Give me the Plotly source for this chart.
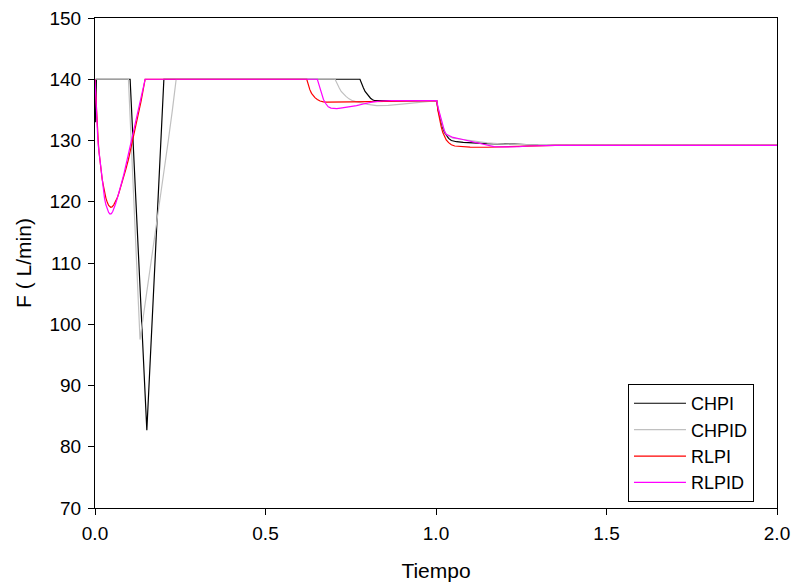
import plotly.graph_objects as go

# ---- data ----
t_chpi = [0, 0.002, 0.004, 0.103, 0.152, 0.202, 0.777, 0.782, 0.787, 0.792, 0.797, 0.803,
          0.808, 0.814, 0.821, 0.85, 1.0, 1.002, 1.006, 1.01, 1.015, 1.02, 1.025, 1.03,
          1.037, 1.045, 1.06, 1.08, 1.15, 1.23, 1.3, 2.0]
f_chpi = [140, 133, 140, 140, 82.7, 140, 140, 139.2, 138.6, 138.0, 137.6, 137.2, 136.9,
          136.65, 136.5, 136.5, 136.5, 136.5, 135.0, 134.0, 132.9, 132.0, 131.3, 130.8,
          130.35, 130.0, 129.8, 129.7, 129.5, 129.4, 129.25, 129.2]

t_chpid = [0, 0.098, 0.132, 0.145, 0.16, 0.175, 0.19, 0.203, 0.215, 0.227, 0.238, 0.704,
           0.709, 0.716, 0.722, 0.728, 0.736, 0.745, 0.755, 0.767, 0.783, 0.8, 0.826, 0.86,
           0.9, 0.943, 0.98, 1.0, 1.002, 1.006, 1.01, 1.015, 1.02, 1.025, 1.03, 1.04, 1.05,
           1.075, 1.1, 1.15, 1.2, 1.3, 2.0]
f_chpid = [140, 140, 97.5, 102.5, 108.5, 114.5, 120.5, 125.5, 130.0, 135.0, 140, 140,
           139.3, 138.6, 138.0, 137.6, 137.2, 136.8, 136.5, 136.3, 136.05, 135.9, 135.7,
           135.75, 135.95, 136.2, 136.45, 136.5, 136.5, 135.2, 134.3, 133.2, 132.3, 131.6,
           131.0, 130.6, 130.4, 130.2, 130.0, 129.6, 129.4, 129.3, 129.2]

t_rlpi = [0, 0.002, 0.004, 0.006, 0.008, 0.01, 0.012, 0.015, 0.018, 0.021, 0.025, 0.028,
          0.032, 0.036, 0.04, 0.046, 0.05, 0.055, 0.06, 0.065, 0.07, 0.075, 0.082, 0.09,
          0.098, 0.105, 0.112, 0.12, 0.128, 0.135, 0.141, 0.147, 0.621, 0.625, 0.63, 0.635,
          0.64, 0.645, 0.652, 0.66, 0.67, 0.68, 0.75, 0.85, 1.0, 1.002, 1.006, 1.01, 1.015,
          1.02, 1.025, 1.03, 1.037, 1.045, 1.055, 1.07, 1.1, 1.15, 1.2, 1.25, 1.3, 1.35, 2.0]
f_rlpi = [140, 137.3, 135.0, 132.9, 131.0, 129.4, 128.0, 126.4, 125.0, 123.7, 122.5, 121.6,
          120.6, 119.9, 119.4, 119.1, 119.15, 119.5, 120.0, 120.6, 121.4, 122.3, 123.6, 125.2,
          126.9, 128.6, 130.3, 132.3, 134.3, 136.4, 138.2, 140, 140, 139.2, 138.3, 137.7,
          137.3, 137.0, 136.7, 136.45, 136.3, 136.25, 136.3, 136.4, 136.5, 136.5, 134.8,
          133.5, 132.3, 131.3, 130.6, 130.1, 129.65, 129.3, 129.1, 129.0, 128.92, 128.9,
          128.95, 129.0, 129.1, 129.2, 129.2]

t_rlpid = [0, 0.002, 0.004, 0.006, 0.008, 0.01, 0.013, 0.016, 0.02, 0.024, 0.028, 0.032,
           0.036, 0.04, 0.044, 0.048, 0.052, 0.056, 0.06, 0.065, 0.07, 0.077, 0.085, 0.092,
           0.1, 0.107, 0.115, 0.122, 0.13, 0.138, 0.147, 0.652, 0.656, 0.661, 0.666, 0.67,
           0.677, 0.684, 0.692, 0.7, 0.709, 0.72, 0.74, 0.767, 0.79, 0.816, 0.84, 0.87, 1.0,
           1.002, 1.006, 1.01, 1.015, 1.02, 1.025, 1.03, 1.04, 1.05, 1.075, 1.1, 1.12, 1.14,
           1.155, 1.17, 1.195, 1.22, 1.245, 1.27, 1.3, 1.35, 2.0]
f_rlpid = [140, 137.0, 134.5, 132.4, 130.5, 129.0, 127.5, 125.6, 123.5, 121.9, 120.5, 119.5,
           118.7, 118.25, 118.0, 118.05, 118.4, 118.9, 119.6, 120.5, 121.4, 122.9, 124.6,
           126.3, 128.1, 129.8, 131.8, 133.6, 135.7, 137.7, 140, 140, 139.3, 138.2, 137.3,
           136.7, 136.0, 135.5, 135.3, 135.2, 135.2, 135.3, 135.45, 135.7, 136.0, 136.3,
           136.45, 136.5, 136.5, 136.5, 135.4, 134.5, 133.3, 132.2, 131.5, 131.0, 130.7,
           130.5, 130.2, 129.9, 129.65, 129.4, 129.2, 129.0, 128.95, 128.95, 129.0, 129.1,
           129.15, 129.2, 129.2]

series_names = ["CHPI", "CHPID", "RLPI", "RLPID"]
series_colors = ["#000000", "#c0c0c0", "#ff0000", "#ff00ff"]

x_ticks = [0.0, 0.5, 1.0, 1.5, 2.0]
y_ticks = [70, 80, 90, 100, 110, 120, 130, 140, 150]

fig = go.Figure()
for name, color, t, f in zip(series_names, series_colors,
                             [t_chpi, t_chpid, t_rlpi, t_rlpid],
                             [f_chpi, f_chpid, f_rlpi, f_rlpid]):
    fig.add_trace(go.Scatter(x=t, y=f, mode="lines", name=name,
                             line=dict(color=color, width=1.2)))

font_family = "Liberation Sans, Arial, sans-serif"
fig.update_layout(
    width=793, height=587,
    margin=dict(l=95, r=16, t=18, b=79),
    paper_bgcolor="white", plot_bgcolor="white",
    font=dict(family=font_family, size=19, color="black"),
    showlegend=True,
    legend=dict(x=0.7815, y=0.253, xanchor="left", yanchor="top",
                bordercolor="black", borderwidth=1, bgcolor="white",
                font=dict(size=18, family=font_family), tracegroupgap=0,
                itemwidth=52, entrywidth=132, entrywidthmode="pixels"),
    xaxis=dict(range=[0, 2], tickvals=x_ticks, ticktext=[f"{v:.1f}" for v in x_ticks],
               showgrid=False, zeroline=False, showline=True, linecolor="black", linewidth=1,
               mirror=True, ticks="outside", ticklen=6, tickcolor="black", automargin=False,
               ticklabelstandoff=2,
               title=dict(text="Tiempo", font=dict(size=21), standoff=20)),
    yaxis=dict(range=[70, 150], tickvals=y_ticks,
               showgrid=False, zeroline=False, showline=True, linecolor="black", linewidth=1,
               mirror=True, ticks="outside", ticklen=6, tickcolor="black", automargin=False,
               ticklabelstandoff=3,
               title=dict(text="F ( L/min)", font=dict(size=21), standoff=12)),
)

fig.write_html("out.html", config={"displayModeBar": False},
               post_script="document.body.style.margin='0';document.body.style.overflow='hidden';")
